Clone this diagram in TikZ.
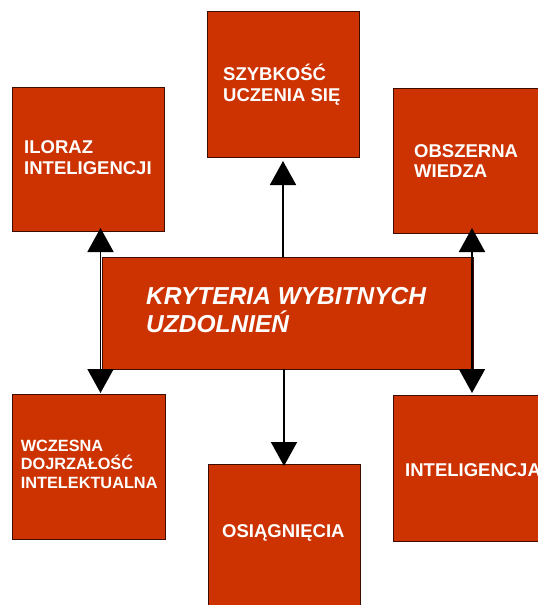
\documentclass[tikz,border=0pt]{standalone}
\usepackage{fontspec}
\setmainfont{Liberation Sans}
\usetikzlibrary{arrows.meta,shadows}
\definecolor{boxred}{RGB}{204,51,0}
\definecolor{boxedge}{RGB}{60,12,0}
\begin{document}
\begin{tikzpicture}[x=1pt,y=-1pt,
  box/.style={draw=boxedge, line width=1pt, fill=boxred, anchor=north west, inner sep=0pt, outer sep=0pt,
    drop shadow={shadow xshift=1.2pt, shadow yshift=-1.2pt, fill=black!35, opacity=1}},
  txt/.style={text=white, inner sep=0pt, anchor=base west, font=\bfseries\fontsize{18.5}{21}\selectfont},
  conn/.style={line width=1.8pt, -{Triangle[width=26pt,length=24pt]}}
]
\useasboundingbox (0,0) rectangle (538,605);
% boxes
\node[box, minimum width=152pt, minimum height=146pt] (szy) at (207,11) {};
\node[box, minimum width=152pt, minimum height=144pt] (ilo) at (12,87) {};
\node[box, minimum width=152pt, minimum height=145pt] (obs) at (393,88) {};
\node[box, minimum width=371pt, minimum height=112pt] (cen) at (102,257) {};
\node[box, minimum width=153pt, minimum height=145pt] (wcz) at (12,394) {};
\node[box, minimum width=152pt, minimum height=150pt] (osi) at (208,464) {};
\node[box, minimum width=152pt, minimum height=146pt] (int) at (393,395) {};
% texts
\node[txt] (szyt) at (223,80) {\vtop{\hbox{SZYBKOŚĆ}\hbox{UCZENIA SIĘ}}};
\node[txt] (ilot) at (24,153) {\vtop{\hbox{ILORAZ}\hbox{INTELIGENCJI}}};
\node[txt, font=\bfseries\fontsize{18.5}{20}\selectfont] (obst) at (414,157) {\vtop{\hbox{OBSZERNA}\hbox{WIEDZA}}};
\node[txt, font=\bfseries\itshape\fontsize{24.5}{28}\selectfont] (cent) at (146,304) {\vtop{\hbox{KRYTERIA WYBITNYCH}\hbox{UZDOLNIEŃ}}};
\node[txt, font=\bfseries\fontsize{16.3}{18.2}\selectfont] (wczt) at (20.6,451.7) {\vtop{\hbox{WCZESNA}\hbox{DOJRZAŁOŚĆ}\hbox{INTELEKTUALNA}}};
\node[txt] (osit) at (222,537) {OSIĄGNIĘCIA};
\node[txt] (intt) at (405,476.7) {INTELIGENCJA};
% connectors
\draw[conn, shorten >=4pt] (szy.south |- cen.north) -- (szy.south);
\draw[conn, shorten >=-2pt] (osi.north |- cen.south) -- (osi.north);
\draw[conn, shorten >=-3pt] ([xshift=-1.5pt]cen.west) -- ([xshift=-1.5pt]cen.west |- ilo.south);
\draw[conn, shorten >=1pt] ([xshift=-1.5pt]cen.west) -- ([xshift=-1.5pt]cen.west |- wcz.north);
\draw[conn, shorten >=-5pt] ([xshift=-1pt]cen.east) -- ([xshift=-1pt]cen.east |- obs.south);
\draw[conn, shorten >=2pt] ([xshift=-1pt]cen.east) -- ([xshift=-1pt]cen.east |- int.north);
\end{tikzpicture}
\end{document}
